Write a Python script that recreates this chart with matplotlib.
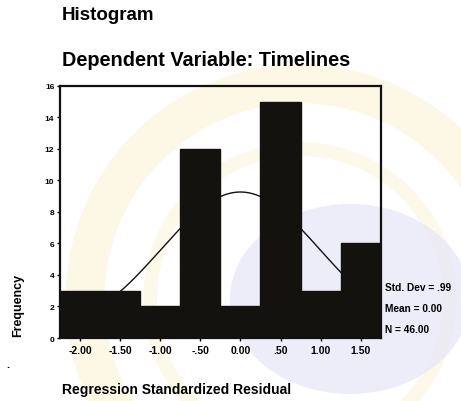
import numpy as np
import matplotlib.pyplot as plt
from matplotlib.patches import Circle, Ellipse

plt.rcParams['font.family'] = ['Liberation Sans', 'DejaVu Sans']
plt.rcParams['font.weight'] = 'bold'

# Histogram of regression standardized residuals
bin_centers = [-2.0, -1.5, -1.0, -0.5, 0.0, 0.5, 1.0, 1.5]
frequencies = [3, 3, 2, 12, 2, 15, 3, 6]
bin_width = 0.5
tick_values = [-2.0, -1.5, -1.0, -0.5, 0.0, 0.5, 1.0, 1.5]
tick_labels = ['-2.00', '-1.50', '-1.00', '-.50', '0.00', '.50', '1.00', '1.50']
y_ticks = [0, 2, 4, 6, 8, 10, 12, 14, 16]

std_dev = 0.99
mean = 0.00
n_cases = 46.00

fig = plt.figure(figsize=(4.61, 4.02), dpi=100)

# faint watermark behind the chart
wm = fig.add_axes([0, 0, 1, 1], zorder=0)
wm.set_xlim(0, 461)
wm.set_ylim(402, 0)
wm.axis('off')
wm.add_patch(Circle((300, 300), 215, fill=False, lw=28, ec='#fdf6dc', alpha=0.7))
wm.add_patch(Circle((300, 300), 150, fill=False, lw=10, ec='#fdf7e2', alpha=0.7))
wm.add_patch(Ellipse((350, 300), 240, 190, fc='#e6e6f7', ec='none', alpha=0.7))

ax = fig.add_axes([0.130, 0.1567, 0.696, 0.627], zorder=1)
ax.patch.set_alpha(0)
ax.bar(bin_centers, frequencies, width=bin_width, color='#14120f', edgecolor='#14120f')

# normal curve scaled to the histogram
xs = np.linspace(-2.25, 1.75, 300)
curve = n_cases * bin_width * np.exp(-0.5 * ((xs - mean) / std_dev) ** 2) / (std_dev * np.sqrt(2 * np.pi))
ax.plot(xs, curve, color='#111111', lw=1.0)

ax.set_xlim(-2.25, 1.75)
ax.set_ylim(0, 16)
ax.set_xticks(tick_values)
ax.set_xticklabels(tick_labels)
ax.set_yticks(y_ticks)
ax.tick_params(axis='x', labelsize=7.5, length=2, width=1, pad=3)
ax.tick_params(axis='y', labelsize=6, length=2, width=1, pad=2)
for lab in ax.get_xticklabels() + ax.get_yticklabels():
    lab.set_fontweight('bold')
for sp in ax.spines.values():
    sp.set_linewidth(1.6)
    sp.set_color('#111111')

fig.text(62 / 461, 1 - 15 / 402, 'Histogram', fontsize=13.5, fontweight='bold', va='center', ha='left')
fig.text(62 / 461, 1 - 60 / 402, 'Dependent Variable: Timelines', fontsize=14.3, fontweight='bold',
         va='center', ha='left')
fig.text(18 / 461, 1 - 305 / 402, 'Frequency', fontsize=9, fontweight='bold', rotation=90,
         va='center', ha='center')
fig.text(62 / 461, 1 - 390 / 402, 'Regression Standardized Residual', fontsize=10, fontweight='bold',
         va='center', ha='left')
fig.text(6 / 461, 1 - 365 / 402, '.', fontsize=8, fontweight='bold', va='center', ha='left')

fig.text(385 / 461, 1 - 288 / 402, 'Std. Dev = .%02d' % round(std_dev * 100), fontsize=7.3,
         fontweight='bold', va='center', ha='left')
fig.text(385 / 461, 1 - 309 / 402, 'Mean = %.2f' % mean, fontsize=7.3, fontweight='bold',
         va='center', ha='left')
fig.text(385 / 461, 1 - 330 / 402, 'N = %.2f' % n_cases, fontsize=7.3, fontweight='bold',
         va='center', ha='left')

fig.savefig('out.png', dpi=100)
